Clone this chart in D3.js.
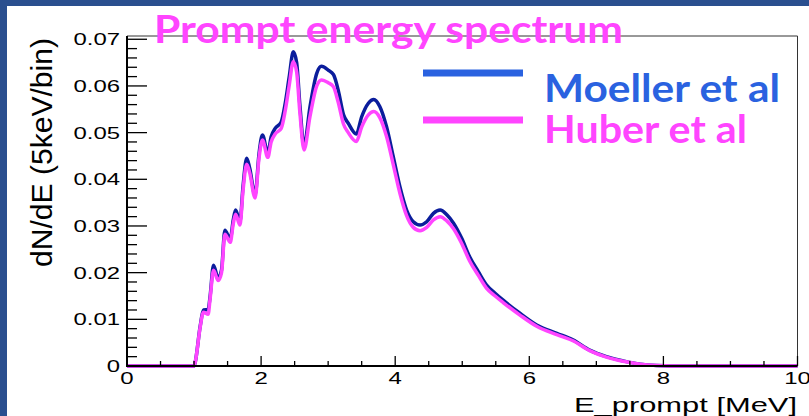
<!DOCTYPE html>
<html>
<head>
<meta charset="utf-8">
<script src="https://cdn.jsdelivr.net/npm/d3@7"></script>
<style>
  body { margin: 0; background: #2a4f8f; }
  svg { display: block; }
</style>
</head>
<body>
<div id="chart"></div>
<script>
// energy knots (MeV)
var energy = [0, 1.00, 1.02, 1.09, 1.14, 1.21, 1.24, 1.29, 1.36, 1.41, 1.46, 1.54, 1.585, 1.62, 1.685, 1.73, 1.785, 1.83, 1.91, 1.97,
  2.02, 2.10, 2.15, 2.21, 2.30, 2.36, 2.42, 2.48, 2.53, 2.58, 2.64, 2.73, 2.83, 2.90, 3.00, 3.08, 3.15, 3.23, 3.30, 3.42,
  3.50, 3.60, 3.68, 3.77, 3.87, 3.97, 4.07, 4.17, 4.27, 4.37, 4.47, 4.57, 4.67, 4.77, 4.87, 4.99, 5.11, 5.24, 5.36, 5.49,
  5.61, 5.86, 6.11, 6.41, 6.65, 6.90, 7.15, 7.40, 7.65, 7.90, 8.10, 10.0];

var moeller = [0, 0, 0.0010, 0.0084, 0.0120, 0.0121, 0.0150, 0.0216, 0.0188, 0.0206, 0.0291, 0.0272, 0.0313, 0.0334, 0.0309, 0.0384, 0.0445, 0.0424, 0.0366, 0.0456,
  0.0495, 0.0456, 0.0491, 0.0509, 0.0523, 0.0563, 0.0620, 0.0673, 0.0650, 0.0556, 0.0472, 0.0556, 0.0627, 0.0642, 0.0634, 0.0624, 0.0591, 0.0538, 0.0520, 0.0497,
  0.0534, 0.0563, 0.0571, 0.0556, 0.0513, 0.0449, 0.0384, 0.0334, 0.0309, 0.0302, 0.0309, 0.0327, 0.0334, 0.0324, 0.0306, 0.0274, 0.0234, 0.0202, 0.0174, 0.0156,
  0.0141, 0.0113, 0.0088, 0.0070, 0.0056, 0.0034, 0.0020, 0.0011, 0.0004, 0.0001, 0, 0];

var huber = [0, 0, 0.0010, 0.0082, 0.0115, 0.0111, 0.0145, 0.0205, 0.0183, 0.0200, 0.0282, 0.0265, 0.0305, 0.0325, 0.0302, 0.0375, 0.0432, 0.0414, 0.0360, 0.0447,
  0.0484, 0.0447, 0.0480, 0.0497, 0.0509, 0.0547, 0.0602, 0.0652, 0.0630, 0.0540, 0.0463, 0.0535, 0.0600, 0.0613, 0.0607, 0.0598, 0.0565, 0.0518, 0.0500, 0.0481,
  0.0512, 0.0538, 0.0545, 0.0532, 0.0492, 0.0432, 0.0370, 0.0322, 0.0297, 0.0290, 0.0297, 0.0313, 0.0320, 0.0311, 0.0294, 0.0263, 0.0225, 0.0194, 0.0167, 0.0150,
  0.0136, 0.0109, 0.0085, 0.0067, 0.0054, 0.0033, 0.0019, 0.0010, 0.0004, 0.0001, 0, 0];

var xTicks = [0, 2, 4, 6, 8, 10];
var yTicks = [0, 0.01, 0.02, 0.03, 0.04, 0.05, 0.06, 0.07];
var seriesNames = ["Moeller et al", "Huber et al"];

var width = 809, height = 416;
var blueLine = "#0b1d9c", blueText = "#2a62e0", pink = "#ff45ff";

var svg = d3.select("#chart").append("svg")
  .attr("width", width)
  .attr("height", height);

// slide background + white panel
svg.append("rect").attr("width", width).attr("height", height).attr("fill", "#2a4f8f");
svg.append("rect").attr("x", 7).attr("y", 6).attr("width", width - 7).attr("height", height - 6).attr("fill", "#fff");

var x = d3.scaleLinear().domain([0, 10]).range([127, 797.5]);
var y = d3.scaleLinear().domain([0, 0.0707]).range([366, 36]);

// frame
svg.append("line").attr("x1", x(0)).attr("x2", x(10)).attr("y1", y.range()[1]).attr("y2", y.range()[1])
  .attr("stroke", "#333").attr("stroke-width", 1);
svg.append("line").attr("x1", x(10)).attr("x2", x(10)).attr("y1", y.range()[1]).attr("y2", y(0))
  .attr("stroke", "#333").attr("stroke-width", 1);

// curves
var line = function(vals) {
  return d3.line()
    .x(function(d, i) { return x(energy[i]); })
    .y(function(d) { return y(d); })
    .curve(d3.curveMonotoneX)(vals);
};
svg.append("path").attr("d", line(moeller)).attr("fill", "none")
  .attr("stroke", blueLine).attr("stroke-width", 3.5).attr("stroke-linejoin", "round");
svg.append("path").attr("d", line(huber)).attr("fill", "none")
  .attr("stroke", pink).attr("stroke-width", 3.5).attr("stroke-linejoin", "round");

// axes (ticks pointing inward)
var g = svg.append("g");
g.append("line").attr("x1", x(0)).attr("x2", x(0)).attr("y1", y.range()[1]).attr("y2", y(0))
  .attr("stroke", "#000").attr("stroke-width", 2);
g.append("line").attr("x1", x(0) - 1).attr("x2", x(10)).attr("y1", y(0)).attr("y2", y(0))
  .attr("stroke", "#000").attr("stroke-width", 2);

d3.range(0, 0.0701, 0.002).forEach(function(v) {
  var major = Math.abs(v * 100 - Math.round(v * 100)) < 1e-6;
  g.append("line").attr("x1", x(0)).attr("x2", x(0) + (major ? 20 : 10))
    .attr("y1", y(v)).attr("y2", y(v)).attr("stroke", "#000").attr("stroke-width", 1.3);
});
d3.range(0, 10.01, 0.5).forEach(function(v) {
  var major = Math.abs(v / 2 - Math.round(v / 2)) < 1e-6;
  g.append("line").attr("x1", x(v)).attr("x2", x(v))
    .attr("y1", y(0)).attr("y2", y(0) - (major ? 10 : 5)).attr("stroke", "#000").attr("stroke-width", 1.3);
});

var tickFont = "'Liberation Sans', Arial, sans-serif";
yTicks.forEach(function(v) {
  g.append("text")
    .attr("transform", "translate(120," + (y(v) + 6) + ") scale(1.45,1)")
    .attr("text-anchor", "end")
    .attr("font-family", tickFont).attr("font-size", 16.5)
    .attr("fill", "#000")
    .text(v === 0 ? "0" : d3.format(".2f")(v));
});
xTicks.forEach(function(v) {
  g.append("text")
    .attr("transform", "translate(" + x(v) + ",384) scale(1.5,1)")
    .attr("text-anchor", "middle")
    .attr("font-family", tickFont).attr("font-size", 16)
    .attr("fill", "#000")
    .text(v);
});

// axis titles
svg.append("text")
  .attr("transform", "translate(797,412) scale(1.47,1)")
  .attr("text-anchor", "end")
  .attr("font-family", tickFont).attr("font-size", 21)
  .text("E_prompt [MeV]");
svg.append("text")
  .attr("transform", "translate(52,152.5) rotate(-90)")
  .attr("text-anchor", "middle")
  .attr("font-family", tickFont).attr("font-size", 30)
  .attr("textLength", 229).attr("lengthAdjust", "spacingAndGlyphs")
  .text("dN/dE (5keV/bin)");

// title
svg.append("text")
  .attr("x", 154).attr("y", 43)
  .attr("font-family", "Lato, 'Open Sans', sans-serif").attr("font-weight", 700)
  .attr("font-size", 38).attr("fill", pink)
  .attr("textLength", 469).attr("lengthAdjust", "spacingAndGlyphs")
  .text("Prompt energy spectrum");

// legend
var legend = [
  { name: seriesNames[0], color: blueText, y: 73, base: 102, len: 236 },
  { name: seriesNames[1], color: pink, y: 120, base: 143, len: 203 }
];
legend.forEach(function(d) {
  svg.append("line").attr("x1", 423).attr("x2", 523).attr("y1", d.y).attr("y2", d.y)
    .attr("stroke", d.color).attr("stroke-width", 7);
  svg.append("text")
    .attr("x", 544).attr("y", d.base)
    .attr("font-family", "Lato, 'Open Sans', sans-serif").attr("font-weight", 700)
    .attr("font-size", 39).attr("fill", d.color)
    .attr("textLength", d.len).attr("lengthAdjust", "spacingAndGlyphs")
    .text(d.name);
});
</script>
</body>
</html>
